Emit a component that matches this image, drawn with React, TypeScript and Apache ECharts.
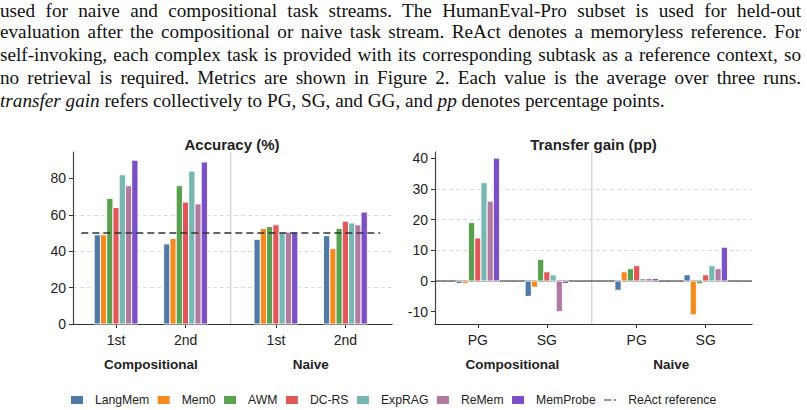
import React, { useEffect, useRef } from "react";
import * as echarts from "echarts";

// ---- data -------------------------------------------------------------
const methods = ["LangMem", "Mem0", "AWM", "DC-RS", "ExpRAG", "ReMem", "MemProbe"];
const methodColors = ["#4e79a7", "#f58a1f", "#59a14f", "#e15759", "#76b7b2", "#b07aa1", "#7a50c6"];
const streams = ["Compositional", "Naive"];
const accuracyTickLabels = ["1st", "2nd", "1st", "2nd"];
const gainTickLabels = ["PG", "SG", "PG", "SG"];
const accuracyTickValues = [0, 20, 40, 60, 80];
const gainTickValues = [-10, 0, 10, 20, 30, 40];
// centres of the four bar groups; the wider gap separates the two streams
const groupPositions = [0, 1, 2.3, 3.3];

// Accuracy (%): Compositional 1st, 2nd, Naive 1st, 2nd
const accLangMem = [49, 44, 46.5, 48.5];
const accMem0 = [49, 47, 52.5, 41.5];
const accAWM = [69, 76, 53.5, 52.5];
const accDCRS = [64, 67, 54.5, 56.5];
const accExpRAG = [82, 84, 50.5, 55.5];
const accReMem = [76, 66, 50.5, 54.5];
const accMemProbe = [90, 89, 50.5, 61.5];
const reactReference = 50;

// Transfer gain (pp): Compositional PG, SG, Naive PG, SG
const gainLangMem = [-0.8, -5, -3, 2];
const gainMem0 = [-0.8, -2, 3, -11];
const gainAWM = [19, 7, 4, -0.9];
const gainDCRS = [14, 3, 5, 2];
const gainExpRAG = [32, 2, 0.8, 5];
const gainReMem = [26, -10, 0.8, 4];
const gainMemProbe = [40, -0.8, 0.8, 11];

const accuracyTable = [accLangMem, accMem0, accAWM, accDCRS, accExpRAG, accReMem, accMemProbe];
const gainTable = [gainLangMem, gainMem0, gainAWM, gainDCRS, gainExpRAG, gainReMem, gainMemProbe];

// ---- layout -----------------------------------------------------------
const FONT = "'Liberation Sans', Arial, Helvetica, sans-serif";
const X_MIN = -0.62;
const X_MAX = 3.97;
const BAR_SLOT = 0.09;
const ACC_RANGE = [0, 94.5];
const GAIN_RANGE = [-14, 42];
const separatorX = (groupPositions[1] + groupPositions[2]) / 2;
const streamCentres = [
  (groupPositions[0] + groupPositions[1]) / 2,
  (groupPositions[2] + groupPositions[3]) / 2,
];
// long dash + short dash, used as the legend key of the reference line
const DASH_ICON = "path://M0,0h9v1.5h-9zM12,0h3v1.5h-3z";

const paragraphLines = [
  "used for naive and compositional task streams.  The HumanEval-Pro subset is used for held-out",
  "evaluation after the compositional or naive task stream. ReAct denotes a memoryless reference. For",
  "self-invoking, each complex task is provided with its corresponding subtask as a reference context, so",
  "no retrieval is required. Metrics are shown in Figure 2. Each value is the average over three runs.",
];

function near(a: number, b: number) {
  return Math.abs(a - b) < 1e-6;
}

function barSeries(gridIdx: number, table: number[][]) {
  return methods.map((name, k) => ({
    type: "custom",
    name,
    xAxisIndex: gridIdx,
    yAxisIndex: gridIdx,
    z: 3,
    itemStyle: { color: methodColors[k] },
    encode: { x: 0, y: 1 },
    data: groupPositions.map((p, i) => [p, table[k][i]]),
    renderItem: (_params: any, api: any) => {
      const centre = api.value(0) + (k - (methods.length - 1) / 2) * BAR_SLOT;
      const v = api.value(1);
      const a = api.coord([centre - BAR_SLOT / 2, v]);
      const b = api.coord([centre + BAR_SLOT / 2, 0]);
      return {
        type: "rect",
        shape: {
          x: a[0],
          y: Math.min(a[1], b[1]),
          width: b[0] - a[0],
          height: Math.abs(b[1] - a[1]),
        },
        style: { fill: methodColors[k], stroke: "#ffffff", lineWidth: 0.9 },
      };
    },
  }));
}

function xAxisFor(gridIdx: number, tickLabels: string[]) {
  return {
    type: "value",
    gridIndex: gridIdx,
    min: X_MIN,
    max: X_MAX,
    axisLine: { show: true, onZero: false, lineStyle: { color: "#333333", width: 1.2 } },
    axisTick: { show: true, customValues: groupPositions, length: 4, lineStyle: { color: "#333333", width: 1 } },
    axisLabel: {
      customValues: [...groupPositions, ...streamCentres],
      margin: 9,
      fontSize: 14,
      color: "#222222",
      fontFamily: FONT,
      formatter: (v: number) => {
        const gi = groupPositions.findIndex((p) => near(p, v));
        if (gi >= 0) return tickLabels[gi];
        const si = streamCentres.findIndex((p) => near(p, v));
        return si >= 0 ? `{g|${streams[si]}}` : "";
      },
      rich: {
        g: {
          fontSize: 13.5,
          fontWeight: "bold",
          color: "#222222",
          fontFamily: FONT,
          padding: [24, 0, 0, 0],
        },
      },
    },
    splitLine: { show: false },
  };
}

function yAxisFor(gridIdx: number, range: number[], ticks: number[]) {
  return {
    type: "value",
    gridIndex: gridIdx,
    min: range[0],
    max: range[1],
    splitNumber: 5,
    axisLine: { show: true, onZero: false, lineStyle: { color: "#444444", width: 1.2 } },
    axisTick: { show: true, customValues: ticks, length: 4, lineStyle: { color: "#333333", width: 1 } },
    axisLabel: { customValues: ticks, margin: 7, fontSize: 14, color: "#222222", fontFamily: FONT },
    splitLine: {
      show: true,
      showMinLine: false,
      showMaxLine: false,
      lineStyle: { color: "#d8dce4", type: [4, 3], width: 1 },
    },
  };
}

function separator(gridIdx: number, range: number[]) {
  return {
    type: "line",
    xAxisIndex: gridIdx,
    yAxisIndex: gridIdx,
    silent: true,
    symbol: "none",
    z: 1,
    lineStyle: { color: "#c3c8d5", width: 1 },
    data: [
      [separatorX, range[0]],
      [separatorX, range[1]],
    ],
  };
}

function buildOption() {
  return {
    animation: false,
    backgroundColor: "transparent",
    textStyle: { fontFamily: FONT },
    title: [
      {
        text: "Accuracy (%)",
        left: 232,
        top: 137,
        padding: 0,
        textAlign: "center",
        textStyle: { fontSize: 15, fontWeight: "bold", color: "#222222", fontFamily: FONT },
      },
      {
        text: "Transfer gain (pp)",
        left: 593.5,
        top: 137,
        padding: 0,
        textAlign: "center",
        textStyle: { fontSize: 15, fontWeight: "bold", color: "#222222", fontFamily: FONT },
      },
    ],
    grid: [
      { left: 73, top: 152, width: 319, height: 172 },
      { left: 435, top: 152, width: 317, height: 172 },
    ],
    xAxis: [xAxisFor(0, accuracyTickLabels), xAxisFor(1, gainTickLabels)],
    yAxis: [yAxisFor(0, ACC_RANGE, accuracyTickValues), yAxisFor(1, GAIN_RANGE, gainTickValues)],
    legend: {
      left: 66,
      top: 389,
      itemWidth: 12,
      itemHeight: 8,
      itemGap: 8.5,
      selectedMode: false,
      textStyle: { fontSize: 12.2, color: "#222222", fontFamily: FONT, padding: [0, 0, 0, 7] },
      data: [
        ...methods.map((name) => ({ name, icon: "rect" })),
        { name: "ReAct reference", icon: DASH_ICON, itemStyle: { color: "#333333" } },
      ],
    },
    series: [
      separator(0, ACC_RANGE),
      separator(1, GAIN_RANGE),
      {
        type: "line",
        xAxisIndex: 1,
        yAxisIndex: 1,
        silent: true,
        symbol: "none",
        z: 1,
        lineStyle: { color: "#222222", width: 1.2 },
        data: [
          [X_MIN, 0],
          [X_MAX, 0],
        ],
      },
      ...barSeries(0, accuracyTable),
      ...barSeries(1, gainTable),
      {
        type: "line",
        name: "ReAct reference",
        xAxisIndex: 0,
        yAxisIndex: 0,
        silent: true,
        symbol: "none",
        z: 5,
        itemStyle: { color: "#333333" },
        lineStyle: { color: "#333333", width: 1.6, type: [7, 4] },
        data: [
          [groupPositions[0] - 0.5, reactReference],
          [groupPositions[3] + 0.5, reactReference],
        ],
      },
    ],
  };
}

function Paragraph() {
  const base: React.CSSProperties = {
    position: "absolute",
    left: 0,
    width: 801,
    whiteSpace: "nowrap",
    textAlign: "justify",
    textAlignLast: "justify",
    height: 23,
    lineHeight: "23px",
  };
  // first line sits just inside the top edge of the page
  const top = (i: number) => (i === 0 ? 2 : -3 + 23 * i);
  return (
    <div
      style={{
        position: "absolute",
        left: 0,
        top: 0,
        width: 801,
        height: 120,
        fontFamily: "'Liberation Serif', 'Times New Roman', serif",
        fontSize: 19.2,
        color: "#111111",
      }}
    >
      {paragraphLines.map((t, i) => (
        <div
          key={i}
          style={{
            ...base,
            top: top(i),
            ...(i === 0 ? { height: 18, lineHeight: "17px" } : {}),
          }}
        >
          {t}
        </div>
      ))}
      <div style={{ ...base, top: top(4), textAlign: "left", textAlignLast: "left" }}>
        <i>transfer gain</i> refers collectively to PG, SG, and GG, and <i>pp</i> denotes percentage points.
      </div>
    </div>
  );
}

export default function App() {
  const ref = useRef<HTMLDivElement>(null);
  useEffect(() => {
    if (!ref.current) return;
    const chart = echarts.init(ref.current, undefined, { renderer: "svg" });
    chart.setOption(buildOption() as any);
    return () => chart.dispose();
  }, []);
  return (
    <div
      style={{
        position: "fixed",
        left: 0,
        top: 0,
        width: 807,
        height: 410,
        background: "#ffffff",
        overflow: "hidden",
      }}
    >
      <Paragraph />
      <div ref={ref} style={{ position: "absolute", left: 0, top: 0, width: 807, height: 410 }} />
    </div>
  );
}
